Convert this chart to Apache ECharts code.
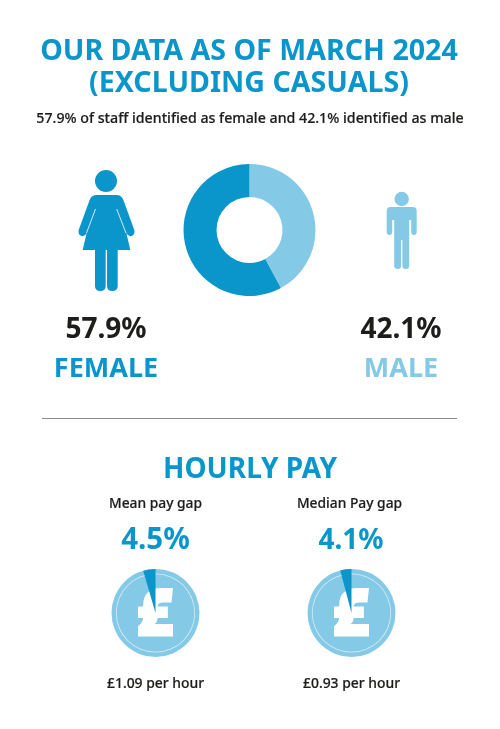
<!DOCTYPE html>
<html>
<head>
<meta charset="utf-8">
<style>
html, body { margin: 0; padding: 0; background: #fff; }
#main { width: 500px; height: 729px; }
</style>
<script src="https://cdn.jsdelivr.net/npm/echarts@6/dist/echarts.min.js"></script>
</head>
<body>
<div id="main"></div>
<script>
var titleLines = ['OUR DATA AS OF MARCH 2024', '(EXCLUDING CASUALS)']
var subtitle = '57.9% of staff identified as female and 42.1% identified as male'
var genderNames = ['MALE', 'FEMALE']
var genderValues = [42.1, 57.9]
var payHeading = 'HOURLY PAY'
var payNames = ['Mean pay gap', 'Median Pay gap']
var payGaps = [4.5, 4.1]
var payAmounts = ['£1.09 per hour', '£0.93 per hour']

var dark = '#0a96cb'
var light = '#84cae7'
var ink = '#1d1d1b'
var fontName = '"Noto Sans", sans-serif'

function label(text, x, y, size, color, weight, thicken) {
	return {
		type: 'text',
		x: x,
		y: y,
		silent: true,
		z: 20,
		style: {
			text: text,
			fill: color,
			stroke: thicken ? color : null,
			lineWidth: thicken || 0,
			font: (weight || 'normal') + ' ' + size + 'px ' + fontName,
			align: 'center',
			verticalAlign: 'middle',
		},
	}
}

function slit(x1, y1, x2, y2) {
	return { type: 'line', shape: { x1: x1, y1: y1, x2: x2, y2: y2 }, style: { stroke: '#fff', lineWidth: 0.8, fill: null } }
}

function pathAt(d, color, box) {
	return {
		type: 'path',
		shape: { pathData: d, layout: 'cover', x: box[0], y: box[1], width: box[2], height: box[3] },
		style: { fill: color },
	}
}

var femaleBody = 'M18 0H38Q43 0 45 5L56 35Q57 40 53 41Q50 42 48 38L52 55H4L8 38Q6 42 3 41Q-1 40 0 35L11 5Q13 0 18 0Z'
var leg = 'M0 0H10V36Q10 41 5 41Q0 41 0 36Z'
var maleBody = 'M4 0H26Q30 0 30 4V25Q30 28 27.25 28Q24.5 28 24.5 25V13H22.5V59Q22.5 62 19 62Q15.7 62 15.7 59V33H14.3V59Q14.3 62 11 62Q7.5 62 7.5 59V13H5.5V25Q5.5 28 2.75 28Q0 28 0 25V4Q0 0 4 0Z'
var poundSign = 'M15 24Q15 7 33 7H44L42.5 21H35Q29 21 29 25H39V36H29Q29 40 26 42H44V54H10V44Q15 40 15 36H10V25H15Z'

var payCentersX = [155.5, 351.5]
var payCenterY = 613

var elements = [
	label(titleLines[0], 249, 52, 28.6, dark, 'bold'),
	label(titleLines[1], 249, 84, 28.6, dark, 'bold'),
	label(subtitle, 250, 119, 14.2, ink, '500', 0.2),
	label(genderValues[1] + '%', 106, 330, 28, ink, 'bold'),
	label(genderNames[1], 106, 369.5, 27, dark, 'bold'),
	label(genderValues[0] + '%', 401, 330, 28, ink, 'bold'),
	label(genderNames[0], 401, 369.5, 27, light, 'bold'),
	{ type: 'line', silent: true, shape: { x1: 42, y1: 418.5, x2: 457, y2: 418.5 }, style: { stroke: '#8a8a8a', lineWidth: 1 } },
	label(payHeading, 250, 470, 28, dark, 'bold'),
]

function renderIcons() {
	return {
		type: 'group',
		children: [
			{ type: 'circle', shape: { cx: 106, cy: 181, r: 11 }, style: { fill: dark } },
			pathAt(femaleBody, dark, [78.5, 195, 56, 55]),
			pathAt(leg, dark, [95, 250, 10.7, 41]),
			pathAt(leg, dark, [107, 250, 10.7, 41]),
			slit(95.5, 209, 86.5, 233),
			slit(116.7, 209, 126, 233),
			{ type: 'circle', shape: { cx: 401.7, cy: 199, r: 7.2 }, style: { fill: light } },
			pathAt(maleBody, light, [386.7, 207, 30, 62]),
		],
	}
}

function renderPounds() {
	return {
		type: 'group',
		children: payCentersX.map(function (cx) {
			return pathAt(poundSign, '#fff', [cx - 17.5, payCenterY - 25, 35, 48.5])
		}),
	}
}

var series = [
	{
		type: 'custom',
		coordinateSystem: 'none',
		silent: true,
		animation: false,
		renderItem: renderIcons,
		data: [0],
	},
	{
		type: 'custom',
		coordinateSystem: 'none',
		z: 5,
		silent: true,
		animation: false,
		renderItem: renderPounds,
		data: [0],
	},
	{
		type: 'pie',
		center: [249.5, 230],
		radius: [33, 66],
		startAngle: 90,
		silent: true,
		animation: false,
		label: { show: false },
		itemStyle: { borderWidth: 0 },
		data: [
			{ name: genderNames[0], value: genderValues[0], itemStyle: { color: light } },
			{ name: genderNames[1], value: genderValues[1], itemStyle: { color: dark } },
		],
	},
]

payNames.forEach(function (name, i) {
	var cx = payCentersX[i]
	var gap = payGaps[i]
	elements.push(label(name, i ? cx - 2 : cx, 504.5, 13.8, ink, '500', 0.2))
	elements.push(label(gap + '%', i ? cx - 0.5 : cx, 541, i ? 28 : 29.5, dark, 'bold'))
	elements.push(label(payAmounts[i], cx, 684, 13.9, ink, '500', 0.2))
	// light disc, thin white ring, then the gap wedge on top of the pound sign
	series.push({
		type: 'pie',
		z: 1,
		center: [cx, payCenterY],
		radius: [0, 44],
		silent: true,
		animation: false,
		label: { show: false },
		itemStyle: { color: light, borderWidth: 0 },
		data: [{ name: name, value: 100 }],
	})
	series.push({
		type: 'pie',
		z: 2,
		center: [cx, payCenterY],
		radius: [38.8, 39.6],
		silent: true,
		animation: false,
		label: { show: false },
		itemStyle: { color: '#d4ecf7', borderWidth: 0 },
		data: [{ name: name, value: 100 }],
	})
	series.push({
		type: 'pie',
		z: 10,
		center: [cx, payCenterY],
		radius: [0, 44],
		startAngle: 90,
		clockwise: false,
		silent: true,
		animation: false,
		label: { show: false },
		itemStyle: { borderWidth: 0 },
		data: [
			{ name: name, value: gap, itemStyle: { color: dark } },
			{ name: 'rest', value: 100 - gap, itemStyle: { color: 'transparent' } },
		],
	})
})

var chart = echarts.init(document.getElementById('main'), null, { renderer: 'canvas' })
chart.setOption({
	animation: false,
	backgroundColor: '#fff',
	graphic: { elements: elements },
	series: series,
})
</script>
</body>
</html>
